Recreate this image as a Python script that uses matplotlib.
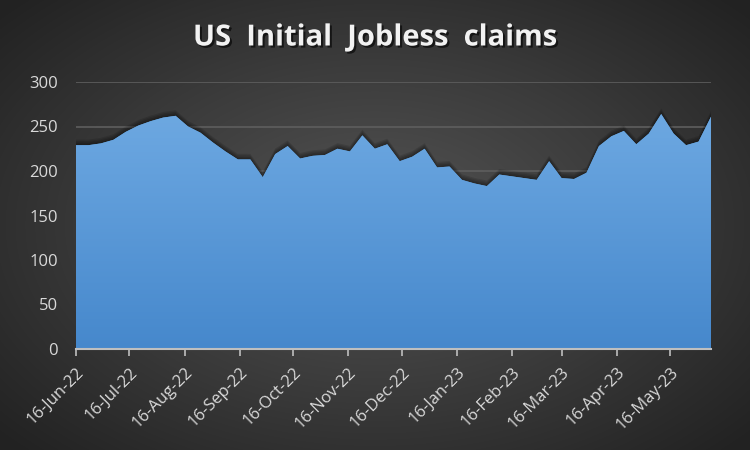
import numpy as np
import pandas as pd
import matplotlib
matplotlib.use('Agg')
import matplotlib.pyplot as plt
import matplotlib.dates as mdates
import matplotlib.patheffects as pe
from matplotlib.colors import LinearSegmentedColormap

plt.rcParams['font.family'] = ['Open Sans', 'DejaVu Sans']

# weekly initial claims (thousands)
claims = [229, 229, 231, 235, 244, 251, 256, 260, 262, 250, 243, 232,
          222, 213, 213, 193, 219, 228, 214, 217, 218, 225, 222, 240,
          225, 230, 211, 216, 225, 204, 205, 190, 186, 183, 196, 194,
          192, 190, 211, 192, 191, 198, 228, 239, 245, 230, 242, 264,
          242, 229, 233, 261]
dates = pd.date_range('2022-06-16', periods=len(claims), freq='7D')
tick_dates = pd.date_range('2022-06-01', '2023-05-01', freq='MS') + pd.Timedelta(days=15)
y_ticks = [0, 50, 100, 150, 200, 250, 300]

fig = plt.figure(figsize=(7.5, 4.5), dpi=100)

# background radial gradient
bg = fig.add_axes([0, 0, 1, 1])
yy, xx = np.mgrid[-1:1:450j, -1:1:750j]
r = np.sqrt(xx**2 * 1.0 + yy**2 * 0.9)
bg_cmap = LinearSegmentedColormap.from_list('bg', ['#545454', '#3c3c3c', '#222222'])
bg.imshow(r, cmap=bg_cmap, aspect='auto', extent=[0, 1, 0, 1], vmin=0, vmax=1.35)
bg.set_axis_off()

ax = fig.add_axes([76/750, 1 - 349/450, (711 - 76)/750, (349 - 82)/450])
ax.set_facecolor('none')
ax.set_xlim(dates[0], dates[-1])
ax.set_ylim(0, 300)

ax.set_yticks(y_ticks)
ax.grid(axis='y', color='#5e5e5e', lw=1.2)
ax.set_axisbelow(True)

poly = ax.fill_between(dates, claims, 0, color='#5b9bd5', lw=0, zorder=2)
# soft shadow: several faint offset copies
shadow = [pe.SimplePatchShadow(offset=(0, d), shadow_rgbFace='black', alpha=0.12) for d in (1, 2, 3, 4)]
poly.set_path_effects(shadow + [pe.Normal()])

# vertical gradient inside the area
grad = np.linspace(0, 1, 256).reshape(-1, 1)
area_cmap = LinearSegmentedColormap.from_list('area', ['#4688cc', '#6ea9e2'])
x0, x1 = mdates.date2num(dates[0]), mdates.date2num(dates[-1])
im = ax.imshow(grad, cmap=area_cmap, aspect='auto', extent=[x0, x1, 0, 270],
               origin='lower', zorder=3)
im.set_clip_path(poly.get_paths()[0], transform=ax.transData)

for s in ['top', 'right', 'left']:
    ax.spines[s].set_visible(False)
ax.spines['bottom'].set_color('#bfbfbf')
ax.spines['bottom'].set_linewidth(1.5)
ax.spines['bottom'].set_zorder(5)

ax.set_xticks(tick_dates)
ax.xaxis.set_major_formatter(mdates.DateFormatter('%d-%b-%y'))
ax.tick_params(axis='x', colors='#bfbfbf', length=5, width=1.2, labelcolor='#d9d9d9',
               labelsize=12, pad=6)
ax.tick_params(axis='y', length=0, labelcolor='#d9d9d9', labelsize=12, pad=13)
for lbl in ax.get_xticklabels():
    lbl.set_rotation(45)
    lbl.set_ha('right')
    lbl.set_va('top')
    lbl.set_rotation_mode('anchor')

fig.text(0.5, 1 - 38/450, 'US  Initial  Jobless  claims', ha='center', va='center',
         fontsize=21, fontweight='bold', color='#f2f2f2',
         path_effects=[pe.withSimplePatchShadow(offset=(1.5, -1.5), shadow_rgbFace='black', alpha=0.6)])

fig.savefig('out.png', dpi=100)
